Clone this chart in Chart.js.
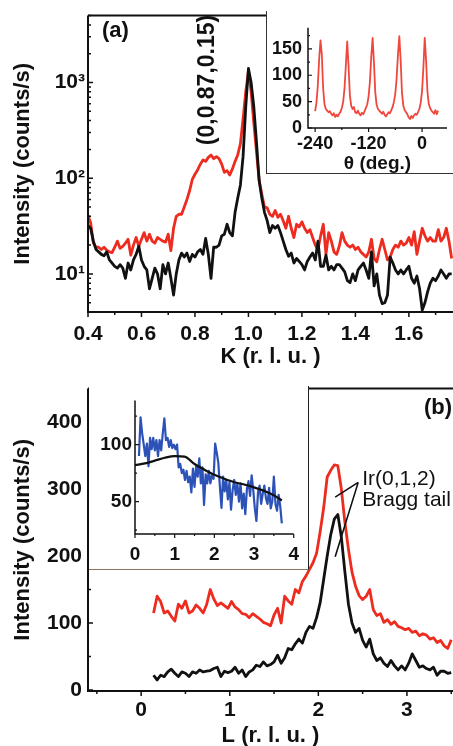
<!DOCTYPE html>
<html lang="en">
<head>
<meta charset="UTF-8">
<title>K and L scans</title>
<script src="https://cdn.jsdelivr.net/npm/chart.js"></script>
<style>
  html, body { margin:0; padding:0; background:#fff; overflow:hidden; }
  body { width:453px; height:746px; position:relative; }
  canvas { position:absolute; display:block; }
  .inset { position:absolute; background:#fff; box-sizing:border-box; }
  #insetA { left:266px; top:11px; width:187px; height:163px; border-left:1px solid #333; border-bottom:1px solid #333; }
  #insetB { left:89px; top:386px; width:220px; height:184px; border-right:1px solid #222; border-bottom:1px solid #8a7560; }
</style>
</head>
<body>
  <canvas id="chart-a" width="453" height="370" style="left:0;top:0"></canvas>
  <canvas id="chart-b" width="453" height="380" style="left:0;top:370px"></canvas>
  <div class="inset" id="insetA"><canvas id="chart-a-inset" width="186" height="162" style="left:0;top:0"></canvas></div>
  <div class="inset" id="insetB"><canvas id="chart-b-inset" width="219" height="183" style="left:0;top:0"></canvas></div>

<script>
const FONT = '"Liberation Sans", Arial, sans-serif';
Chart.defaults.font.family = FONT;
Chart.defaults.color = '#111';

// ---- panel (a): K scan, log intensity (K = 0.40 .. 1.76, step 0.01)
const kStart = 0.40, kStep = 0.01;
const aBlack = [32,30,22,18,17,16,15.5,17,14,13,
  12,11.5,12.5,11.5,9,13,11,14,16,19.5,
  14,12,11,7,9,11.5,10,7,12.5,10,
  13,9,6,10,14,16.5,15,16.5,13.5,16,
  15,17,18,16,23.5,16,9,19,19,20,
  25,26,33,27,25,44,62,85,170,560,
  1400,1000,560,240,95,62,44,36,27,32,
  30,32,27,22,18,15.3,16.5,13,14.5,13.5,
  12.5,11,13.5,15,16.5,14,22,12,12,15.7,
  11,12,11,12.5,12.5,11.5,10.5,8.5,8.1,10,
  8.5,11,12,13,11,9,17,7.5,10,6,
  4.9,5,6,15,13,11,10,11,10,11,
  12,9,8,9.5,7,4.2,5,6.5,8,9,
  8.5,9.5,11,10,9,10,10];
const aRed = [41,34,21,19,19,18,19,17.7,17,16.7,
  19,22,18.5,19.4,21,23,15.7,20,24,19.4,
  23,27,22,26,22,21,24,23,22,21.5,
  26,17.5,30,40,42,42,50,60,74,97,
  110,122,140,155,150,165,175,160,168,160,
  140,115,120,108,125,150,175,230,420,800,
  1300,800,380,190,95,68,50,49,42,40,
  46,39,42,36,30,40,30,24,33,31,
  35,30,27,29,24,20,18,25,33,16,
  27,22,17,16,19.6,27,22,20,19,20,
  18,19,17,16,15,17,23,14.5,13.4,18,
  23,18,14,15,18,20,19,22,20,21,
  24,20,27.6,16,22,30,25,22,24,22,
  22,29,22,24,30,22,14.5];
const kTicks = [0.4, 0.6, 0.8, 1.0, 1.2, 1.4, 1.6];
const kMinor = [0.5, 0.7, 0.9, 1.1, 1.3, 1.5, 1.7];
const aLogTicks = [10, 100, 1000];
const aLogLabels = ['10\u00B9', '10\u00B2', '10\u00B3'];
const aLogMinor = [5,6,7,8,9,20,30,40,50,60,70,80,90,200,300,400,500,600,700,800,900,2000,3000,4000,5000];

// ---- inset (a): azimuthal scan (theta = -240 .. 36, step 3)
const thStart = -240, thStep = 3;
const thRed = [32,48,80,130,166,140,75,45,36,33,
  30,32,27,24,28,21,25,22,27,31,
  38,50,75,120,164,118,62,42,36,40,
  30,28,33,27,24,29,26,32,38,45,
  60,88,135,171,125,68,44,36,33,30,
  27,31,25,22,26,30,28,34,40,50,
  65,95,140,174,128,66,42,34,30,26,
  20,17,23,19,24,27,25,30,36,48,
  70,115,171,130,70,46,38,33,30,27,
  34,26,33];
const thTicks = [-240, -120, 0];
const thMinor = [-180, -60];
const thYTicks = [0, 50, 100, 150];
const thYMinor = [25, 75, 125, 175];

// ---- panel (b): L scan (L = 0.14 .. 3.50, step 0.04)
const lStart = 0.14, lStep = 0.04;
const bBlack = [22,15,22,20,27,31,25,20,27,25,
  20,27,25,30,27,28,29,32,34,20,
  28,26,28,34,25,30,20,27,30,37,
  35,42,36,38,42,52,40,48,62,60,
  69,76,70,86,95,92,108,130,165,200,
  232,255,262,228,176,128,100,86,92,74,
  64,76,54,44,48,40,35,44,36,30,
  36,30,40,54,44,34,36,32,30,34,
  22,28,28,25,26];
const bRed = [115,140,132,115,118,110,103,128,122,133,
  115,118,127,122,115,128,150,136,126,130,
  126,122,132,124,120,114,113,108,114,110,
  106,101,99,96,112,122,100,140,133,128,
  150,145,162,170,180,190,204,236,272,318,
  328,336,335,300,250,210,176,155,141,135,
  140,150,120,111,114,101,105,98,102,95,
  93,90,92,86,88,81,84,82,76,78,
  71,74,66,62,75];
const lTicks = [0, 1, 2, 3];
const lMinor = [-0.5, 0.5, 1.5, 2.5, 3.5];
const bYTicks = [0, 100, 200, 300, 400];
const bYMinor = [50, 150, 250, 350];

// ---- inset (b): blue data (L = 0.10 .. 3.70, step 0.04) and smooth fit
const ibStart = 0.10, ibStep = 0.04;
const ibBlue = [90,124,110,100,90,101,81,106,96,106,
  95,104,90,104,95,110,123,104,106,98,
  104,97,100,96,100,80,83,75,78,69,
  77,67,72,58,79,63,81,72,88,66,
  80,47,74,66,77,66,73,70,101,93,
  84,63,44.5,72,59,69,52,67,43,60,
  69,56,66,50,66,44,57,39,61,68,
  55,73,60,44,33,58,64,48,57,64,
  53,48,62,44,50,72,48,42,56,46,31];
const fitL = [0, 0.25, 0.5, 0.75, 1.0, 1.25, 1.5, 1.75, 2.0, 2.25, 2.5, 2.75, 3.0, 3.25, 3.5, 3.7];
const fitV = [82, 83.5, 86, 88.5, 90, 89.5, 83, 78, 73.5, 70, 67, 65, 62.5, 59.5, 55.5, 51];
const ibTicks = [0, 1, 2, 3, 4];
const ibMinor = [0.5, 1.5, 2.5, 3.5];
const ibYTicks = [50, 100];
const ibYMinor = [25, 75, 125];

// annotation anchors in data units of panel (b)
const braggFrom = { x: 2.45, y: 310 };
const braggTo = [{ x: 2.19, y: 288 }, { x: 2.19, y: 199 }];

function series(start, step, vals) {
  return vals.map((v, i) => ({ x: +(start + i * step).toFixed(3), y: v }));
}

// axis lines with inward y ticks and outward x ticks
function frame(o) {
  return {
    id: 'frame',
    afterDraw(chart) {
      const { ctx, chartArea: a, scales: { x, y } } = chart;
      ctx.save();
      ctx.strokeStyle = '#111';
      ctx.lineWidth = o.width;
      ctx.beginPath();
      ctx.moveTo(a.left, a.top);
      ctx.lineTo(a.left, a.bottom);
      ctx.lineTo(a.right, a.bottom);
      if (o.top) { ctx.moveTo(a.left, a.top); ctx.lineTo(a.right + 2, a.top); }
      ctx.stroke();
      ctx.lineWidth = o.tickWidth;
      ctx.beginPath();
      const xt = (vals, len) => vals.forEach(v => {
        const p = x.getPixelForValue(v);
        ctx.moveTo(p, a.bottom); ctx.lineTo(p, a.bottom + len);
      });
      const yt = (vals, len) => vals.forEach(v => {
        const p = y.getPixelForValue(v);
        ctx.moveTo(a.left, p); ctx.lineTo(a.left + len, p);
      });
      xt(o.xMajor, o.major); xt(o.xMinor, o.minor);
      yt(o.yMajor, o.major); yt(o.yMinor, o.minor);
      ctx.stroke();
      ctx.restore();
    }
  };
}

function fixedTicks(list) {
  return s => { s.ticks = list.map(v => ({ value: v })); };
}

const base = {
  responsive: false,
  animation: false,
  devicePixelRatio: 1,
  elements: { point: { radius: 0 }, line: { tension: 0, borderJoinStyle: 'round' } },
  plugins: { legend: { display: false }, tooltip: { enabled: false } }
};
const noGrid = { display: false, drawTicks: false };

// ---------- panel (a)
new Chart(document.getElementById('chart-a'), {
  type: 'line',
  data: { datasets: [
    { data: series(kStart, kStep, aBlack), borderColor: '#111', borderWidth: 2.8 },
    { data: series(kStart, kStep, aRed), borderColor: '#ee2b1f', borderWidth: 2.8 }
  ]},
  options: {
    ...base,
    layout: { padding: { top: 10, right: 0, left: 0, bottom: 0 } },
    scales: {
      x: {
        type: 'linear', min: 0.4, max: 1.765,
        grid: noGrid, border: { display: false },
        afterBuildTicks: fixedTicks(kTicks),
        afterFit: s => { s.height = 58; },
        ticks: { font: { size: 21, weight: 'bold' }, padding: 10, maxRotation: 0, autoSkip: false,
                 callback: v => v.toFixed(1) },
        title: { display: true, text: 'K (r. l. u. )', font: { size: 22, weight: 'bold' }, padding: 0 }
      },
      y: {
        type: 'logarithmic', min: 4, max: 5000,
        grid: noGrid, border: { display: false },
        afterBuildTicks: fixedTicks(aLogTicks),
        afterFit: s => { s.width = 88; },
        ticks: { font: { size: 21, weight: 'bold' }, padding: 3, autoSkip: false,
                 callback: v => aLogLabels[aLogTicks.indexOf(v)] || '' },
        title: { display: true, text: 'Intensity (counts/s)', font: { size: 22, weight: 'bold' }, padding: { top: 10 } }
      }
    }
  },
  plugins: [
    frame({ width: 2, tickWidth: 1.5, top: true, major: 5, minor: 3,
            xMajor: kTicks, xMinor: kMinor, yMajor: aLogTicks, yMinor: aLogMinor }),
    {
      id: 'notesA',
      afterDraw(chart) {
        const ctx = chart.ctx;
        ctx.save();
        ctx.fillStyle = '#111';
        ctx.font = 'bold 22px ' + FONT;
        ctx.textBaseline = 'middle';
        ctx.fillText('(a)', 102, 31);
        ctx.translate(208, 80);
        ctx.rotate(-Math.PI / 2);
        ctx.textAlign = 'center';
        ctx.font = 'bold 23px ' + FONT;
        ctx.fillText('(0,0.87,0.15)', 0, 0);
        ctx.restore();
      }
    }
  ]
});

// ---------- inset (a)
new Chart(document.getElementById('chart-a-inset'), {
  type: 'line',
  data: { datasets: [
    { data: series(thStart, thStep, thRed), borderColor: '#f0473c', borderWidth: 1.8 }
  ]},
  options: {
    ...base,
    layout: { padding: { top: 6, right: 6, left: 0, bottom: 0 } },
    scales: {
      x: {
        type: 'linear', min: -256, max: 56,
        grid: noGrid, border: { display: false },
        afterBuildTicks: fixedTicks(thTicks),
        afterFit: s => { s.height = 45; },
        ticks: { font: { size: 18, weight: 'bold' }, padding: 5, maxRotation: 0, autoSkip: false },
        title: { display: true, text: '\u03B8 (deg.)', font: { size: 19, weight: 'bold', lineHeight: 1 }, padding: 0 }
      },
      y: {
        type: 'linear', min: 0, max: 190,
        grid: noGrid, border: { display: false },
        afterBuildTicks: fixedTicks(thYTicks),
        afterFit: s => { s.width = 41; },
        ticks: { font: { size: 18, weight: 'bold' }, padding: 6, autoSkip: false }
      }
    }
  },
  plugins: [frame({ width: 1.5, tickWidth: 1.2, top: false, major: 4, minor: 2,
                    xMajor: thTicks, xMinor: thMinor, yMajor: thYTicks, yMinor: thYMinor })]
});

// ---------- panel (b)
new Chart(document.getElementById('chart-b'), {
  type: 'line',
  data: { datasets: [
    { data: series(lStart, lStep, bBlack), borderColor: '#111', borderWidth: 2.8 },
    { data: series(lStart, lStep, bRed), borderColor: '#ee2b1f', borderWidth: 2.8 }
  ]},
  options: {
    ...base,
    layout: { padding: { top: 15, right: 0, left: 0, bottom: 0 } },
    scales: {
      x: {
        type: 'linear', min: -0.6, max: 3.52,
        grid: noGrid, border: { display: false },
        afterBuildTicks: fixedTicks(lTicks),
        afterFit: s => { s.height = 59; },
        ticks: { font: { size: 21, weight: 'bold' }, padding: 7, maxRotation: 0, autoSkip: false },
        title: { display: true, text: 'L (r. l. u. )', font: { size: 22, weight: 'bold' }, padding: { bottom: 1 } }
      },
      y: {
        type: 'linear', min: -1.5, max: 450,
        grid: noGrid, border: { display: false },
        afterBuildTicks: fixedTicks(bYTicks),
        afterFit: s => { s.width = 88; },
        ticks: { font: { size: 21, weight: 'bold' }, padding: 6, autoSkip: false },
        title: { display: true, text: 'Intensity (counts/s)', font: { size: 22, weight: 'bold' }, padding: { top: 10 } }
      }
    }
  },
  plugins: [
    frame({ width: 2, tickWidth: 1.5, top: true, major: 5, minor: 3,
            xMajor: lTicks, xMinor: lMinor, yMajor: bYTicks, yMinor: bYMinor }),
    {
      id: 'notesB',
      afterDraw(chart) {
        const { ctx, scales: { x, y } } = chart;
        ctx.save();
        ctx.strokeStyle = '#111';
        ctx.lineWidth = 1.6;
        ctx.beginPath();
        braggTo.forEach(p => {
          ctx.moveTo(x.getPixelForValue(braggFrom.x), y.getPixelForValue(braggFrom.y));
          ctx.lineTo(x.getPixelForValue(p.x), y.getPixelForValue(p.y));
        });
        ctx.stroke();
        ctx.fillStyle = '#111';
        ctx.textBaseline = 'middle';
        ctx.font = '21px ' + FONT;
        const tx = x.getPixelForValue(braggFrom.x) + 4;
        ctx.fillText('Ir(0,1,2)', tx, y.getPixelForValue(braggFrom.y) - 3);
        ctx.fillText('Bragg tail', tx, y.getPixelForValue(braggFrom.y) + 18);
        ctx.font = 'bold 22px ' + FONT;
        ctx.textAlign = 'right';
        ctx.fillText('(b)', 452, 38);
        ctx.restore();
      }
    }
  ]
});

// ---------- inset (b)
new Chart(document.getElementById('chart-b-inset'), {
  type: 'line',
  data: { datasets: [
    { data: fitL.map((l, i) => ({ x: l, y: fitV[i] })), borderColor: '#111', borderWidth: 2.2,
      cubicInterpolationMode: 'monotone' },
    { data: series(ibStart, ibStep, ibBlue), borderColor: '#2c52b8', borderWidth: 2.2 }
  ]},
  options: {
    ...base,
    layout: { padding: { top: 12, right: 5, left: 0, bottom: 0 } },
    scales: {
      x: {
        type: 'linear', min: 0, max: 4,
        grid: noGrid, border: { display: false },
        afterBuildTicks: fixedTicks(ibTicks),
        afterFit: s => { s.height = 35; },
        ticks: { font: { size: 19, weight: 'bold' }, padding: 9, maxRotation: 0, autoSkip: false }
      },
      y: {
        type: 'linear', min: 21.6, max: 138.8,
        grid: noGrid, border: { display: false },
        afterBuildTicks: fixedTicks(ibYTicks),
        afterFit: s => { s.width = 46; },
        ticks: { font: { size: 19, weight: 'bold' }, padding: 3, autoSkip: false }
      }
    }
  },
  plugins: [frame({ width: 1.5, tickWidth: 1.2, top: false, major: 4, minor: 2,
                    xMajor: ibTicks, xMinor: ibMinor, yMajor: ibYTicks, yMinor: ibYMinor })]
});
</script>
</body>
</html>
